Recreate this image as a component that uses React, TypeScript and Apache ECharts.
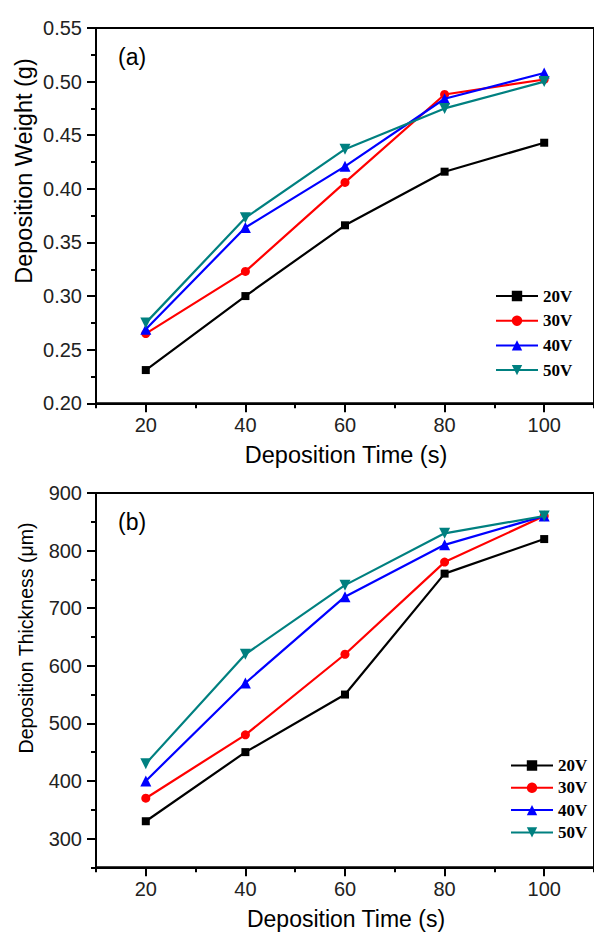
import React, { useEffect, useRef } from "react";
import * as echarts from "echarts";

const times = [20, 40, 60, 80, 100];
const xLabelValues = [20, 40, 60, 80, 100];
const seriesNames = ["20V", "30V", "40V", "50V"];
const seriesColors = ["#000000", "#ff0000", "#0000ff", "#008080"];

const weight20V = [0.231, 0.3, 0.366, 0.416, 0.443];
const weight30V = [0.265, 0.323, 0.406, 0.488, 0.502];
const weight40V = [0.269, 0.364, 0.421, 0.484, 0.508];
const weight50V = [0.275, 0.373, 0.437, 0.475, 0.5];

const thick20V = [330, 450, 550, 760, 820];
const thick30V = [370, 480, 620, 780, 860];
const thick40V = [400, 570, 720, 810, 860];
const thick50V = [430, 620, 740, 830, 860];

const thickLabelValues = [300, 400, 500, 600, 700, 800, 900];

const SANS = "'Liberation Sans', Arial, sans-serif";
const SERIF = "'Liberation Serif', 'Times New Roman', serif";

const symbols = [
  { symbol: "rect", size: 8 },
  { symbol: "circle", size: 9 },
  { symbol: "triangle", size: 11 },
  { symbol: "path://M0,0 L10,0 L5,9 Z", size: 11 },
];

export default function App() {
  const ref = useRef<HTMLDivElement>(null);

  useEffect(() => {
    if (!ref.current) return;
    const chart = echarts.init(ref.current, undefined, { renderer: "svg" });

    const axisLineStyle = { color: "#000", width: 2 };
    const labelStyle = { fontFamily: SANS, fontSize: 20, color: "#222" };

    const makeX = (gridIndex: number) => [
      {
        type: "value",
        gridIndex,
        position: "bottom",
        min: 10,
        max: 110,
        interval: 20,
        axisLine: { show: true, onZero: false, lineStyle: axisLineStyle },
        axisTick: { show: true, inside: false, length: 5, lineStyle: axisLineStyle },
        axisLabel: { ...labelStyle, margin: 12, customValues: xLabelValues },
        splitLine: { show: false },
      },
      {
        type: "value",
        gridIndex,
        position: "bottom",
        min: 10,
        max: 110,
        axisLine: { show: false, onZero: false },
        axisTick: { show: true, inside: false, length: 9, lineStyle: axisLineStyle, customValues: xLabelValues },
        axisLabel: { show: false },
        splitLine: { show: false },
      },
    ];

    const series: any[] = [];
    const weights = [weight20V, weight30V, weight40V, weight50V];
    const thicks = [thick20V, thick30V, thick40V, thick50V];
    seriesNames.forEach((name, i) => {
      const common = {
        name,
        type: "line",
        symbol: symbols[i].symbol,
        symbolSize: symbols[i].size,
        lineStyle: { color: seriesColors[i], width: 2.2 },
        itemStyle: { color: seriesColors[i] },
        z: 3 + i,
      };
      series.push({
        ...common,
        xAxisIndex: 0,
        yAxisIndex: 0,
        data: times.map((t, k) => [t, weights[i][k]]),
      });
      series.push({
        ...common,
        xAxisIndex: 2,
        yAxisIndex: 2,
        data: times.map((t, k) => [t, thicks[i][k]]),
      });
    });

    const legendText = { fontFamily: SERIF, fontWeight: "bold", fontSize: 17, lineHeight: 17, color: "#000" };

    const option: any = {
      animation: false,
      backgroundColor: "#fff",
      grid: [
        { left: 96, top: 28, width: 507.6, height: 375.3, show: true, borderColor: "#000", borderWidth: 2, backgroundColor: "transparent" },
        { left: 96, top: 493, width: 507.6, height: 374.3, show: true, borderColor: "#000", borderWidth: 2, backgroundColor: "transparent" },
      ],
      xAxis: [...makeX(0), ...makeX(1)],
      yAxis: [
        {
          type: "value",
          gridIndex: 0,
          position: "left",
          min: 0.2,
          max: 0.55,
          interval: 0.05,
          axisLine: { show: true, onZero: false, lineStyle: axisLineStyle },
          axisTick: { show: true, inside: false, length: 9, lineStyle: axisLineStyle },
          minorTick: { show: true, splitNumber: 2, length: 5, lineStyle: axisLineStyle },
          axisLabel: { ...labelStyle, margin: 14, formatter: (v: number) => v.toFixed(2) },
          splitLine: { show: false },
          minorSplitLine: { show: false },
        },
        {
          type: "value",
          gridIndex: 0,
          position: "left",
          min: 0.2,
          max: 0.55,
          interval: 0.05,
          axisLine: { show: false, onZero: false },
          axisTick: { show: false },
          axisLabel: { show: false },
          splitLine: { show: false },
        },
        {
          type: "value",
          gridIndex: 1,
          position: "left",
          min: 250,
          max: 900,
          interval: 100,
          axisLine: { show: true, onZero: false, lineStyle: axisLineStyle },
          axisTick: { show: true, inside: false, length: 5, lineStyle: axisLineStyle },
          axisLabel: { ...labelStyle, margin: 14, customValues: thickLabelValues },
          splitLine: { show: false },
        },
        {
          type: "value",
          gridIndex: 1,
          position: "left",
          min: 250,
          max: 900,
          axisLine: { show: false, onZero: false },
          axisTick: { show: true, inside: false, length: 9, lineStyle: axisLineStyle, customValues: thickLabelValues },
          axisLabel: { show: false },
          splitLine: { show: false },
        },
      ],
      legend: [
        {
          orient: "vertical",
          left: 490,
          top: 282.5,
          itemWidth: 42,
          itemHeight: 13,
          itemGap: 7.7,
          textStyle: legendText,
          data: seriesNames,
          selectedMode: false,
        },
        {
          orient: "vertical",
          left: 505,
          top: 752,
          itemWidth: 42,
          itemHeight: 13,
          itemGap: 5.3,
          textStyle: legendText,
          data: seriesNames,
          selectedMode: false,
        },
      ],
      graphic: [
        { type: "text", x: 118, y: 57, style: { text: "(a)", fontFamily: SANS, fontSize: 23, fill: "#000", align: "left", verticalAlign: "middle" } },
        { type: "text", x: 118, y: 522, style: { text: "(b)", fontFamily: SANS, fontSize: 23, fill: "#000", align: "left", verticalAlign: "middle" } },
        { type: "text", x: 24, y: 171, rotation: Math.PI / 2, style: { text: "Deposition Weight (g)", fontFamily: SANS, fontSize: 23.5, fill: "#000", align: "center", verticalAlign: "middle" } },
        { type: "text", x: 26, y: 638, rotation: Math.PI / 2, style: { text: "Deposition Thickness (μm)", fontFamily: SANS, fontSize: 19.5, fill: "#000", align: "center", verticalAlign: "middle" } },
        { type: "text", x: 346, y: 455, style: { text: "Deposition Time (s)", fontFamily: SANS, fontSize: 23.5, fill: "#000", align: "center", verticalAlign: "middle" } },
        { type: "text", x: 346, y: 919, style: { text: "Deposition Time (s)", fontFamily: SANS, fontSize: 23, fill: "#000", align: "center", verticalAlign: "middle" } },
      ],
      series,
    };

    chart.setOption(option);
    return () => chart.dispose();
  }, []);

  return (
    <div
      ref={ref}
      style={{ position: "absolute", left: 0, top: 0, width: 594, height: 933, background: "#fff" }}
    />
  );
}
